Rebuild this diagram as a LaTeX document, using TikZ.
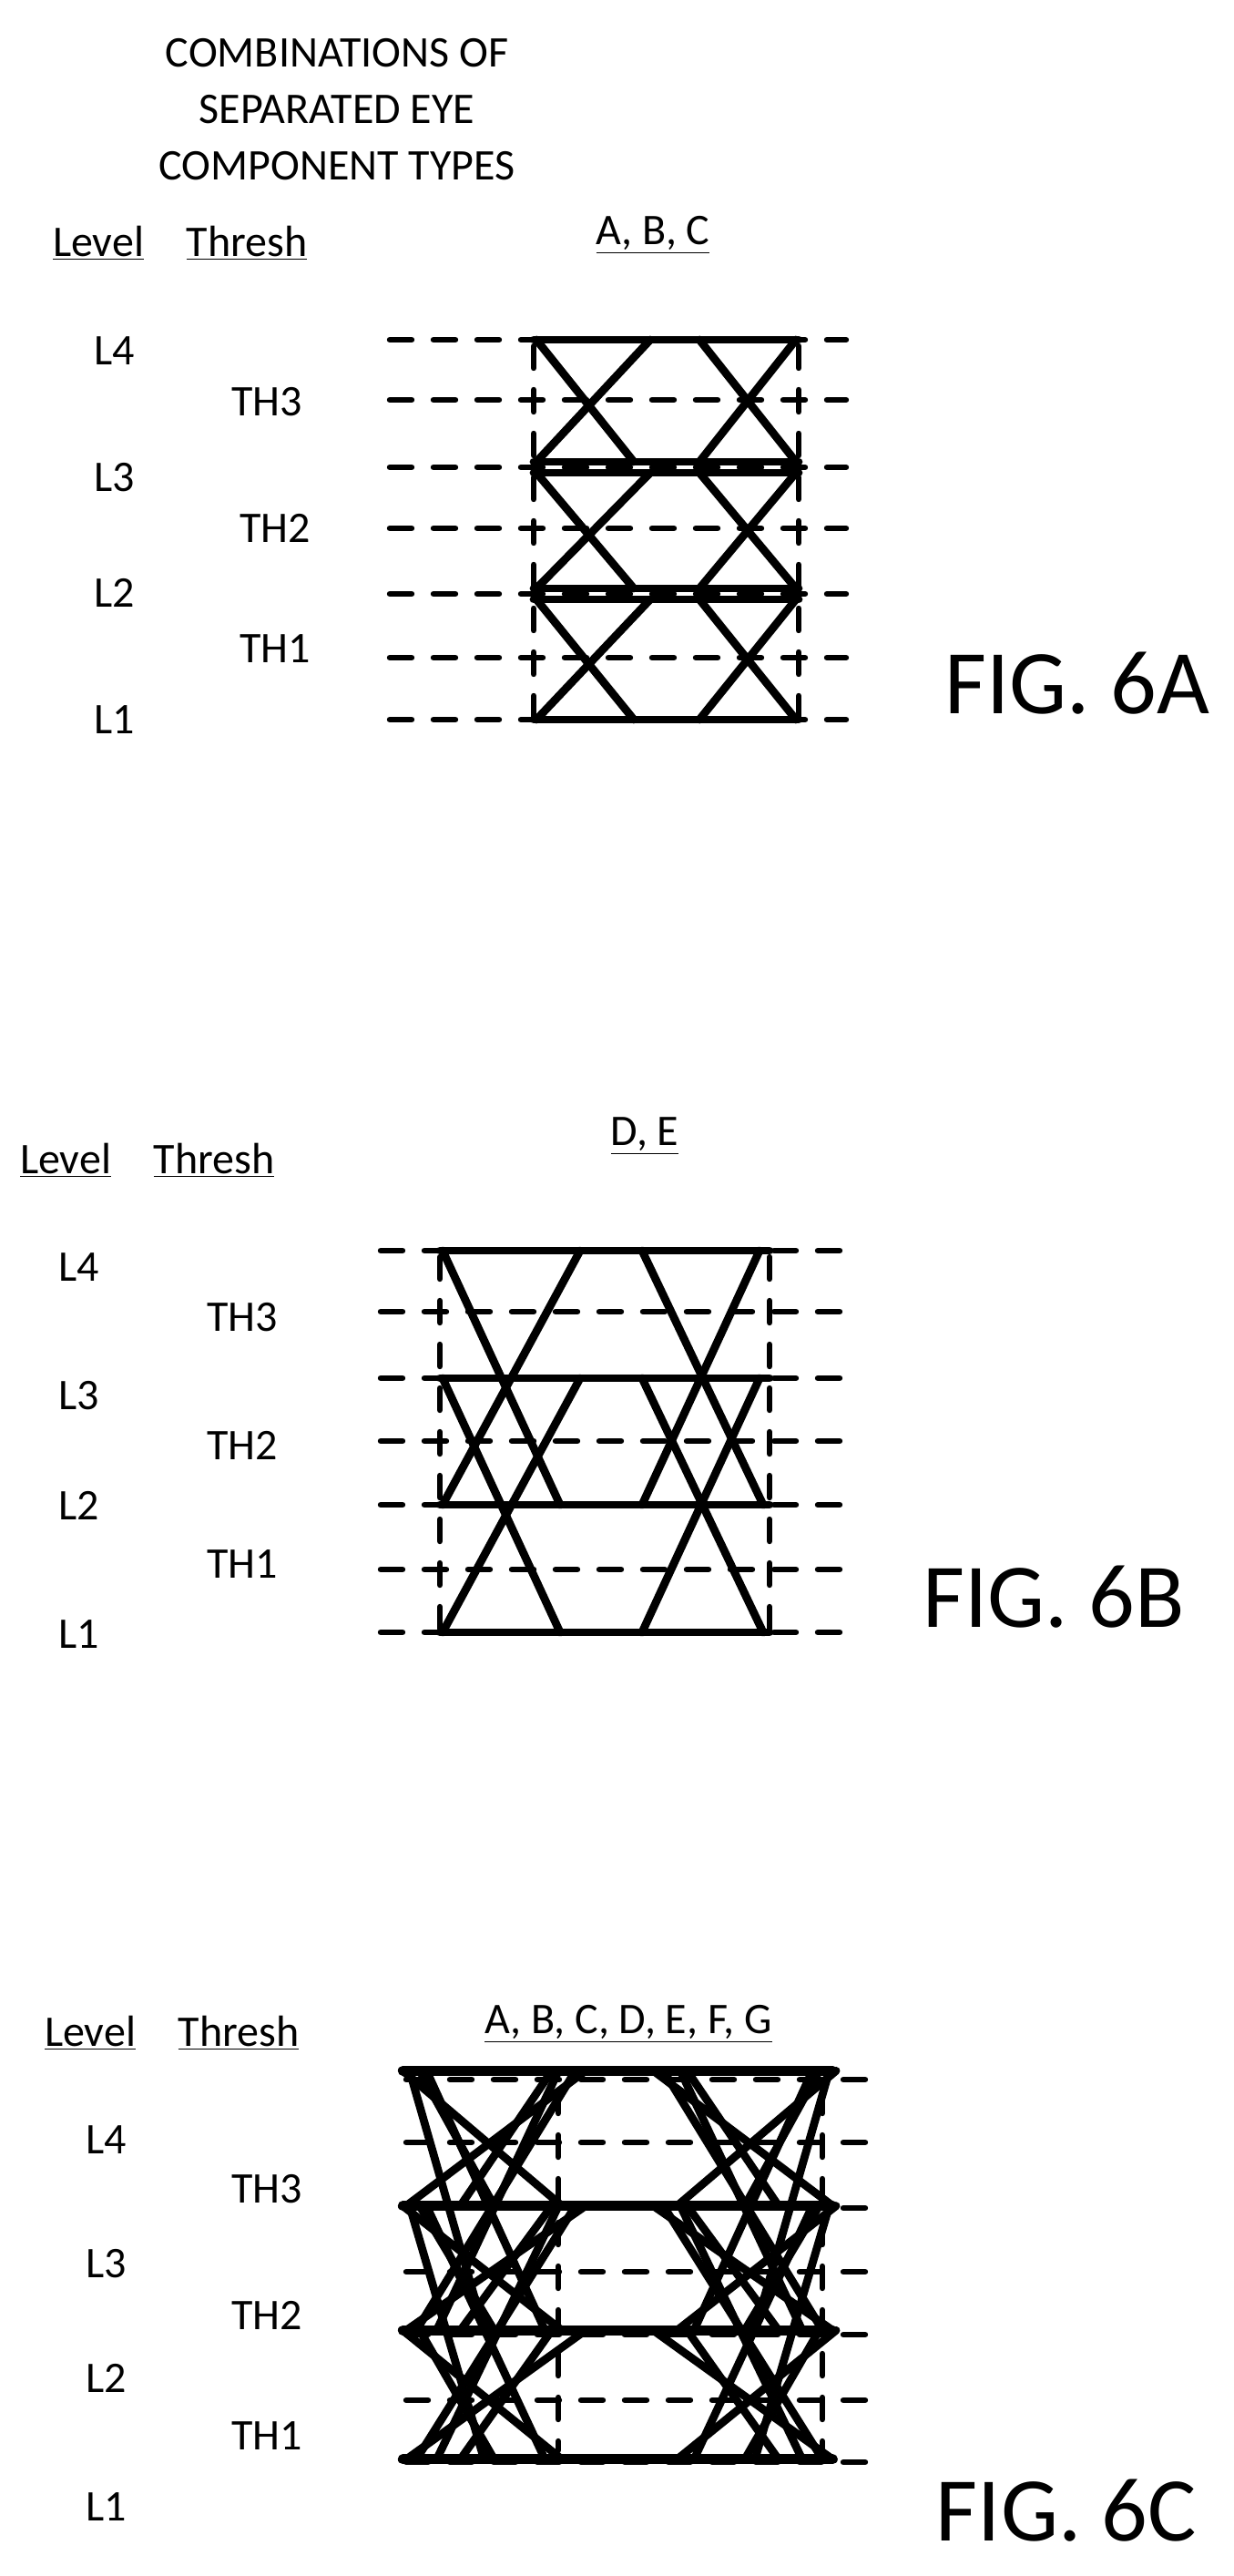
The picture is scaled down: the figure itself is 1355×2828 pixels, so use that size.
\documentclass[tikz,border=0pt]{standalone}
\usepackage{fontspec}
\setmainfont{Carlito}
\usepackage{tikz}
\usetikzlibrary{positioning}
\tikzset{
	lbl/.style={font=\fontsize{24}{28}\selectfont,inner sep=0pt},
	fig/.style={font=\fontsize{50}{56}\selectfont,inner sep=0pt},
	grid line/.style={line width=3.2pt,line cap=round,dash pattern=on 12pt off 12pt},
	eye line/.style={line width=4.4pt,line cap=round,line join=round},
	heavy line/.style={line width=5.5pt,line cap=round}
}
\begin{document}
\begin{tikzpicture}[x=0.5pt,y=-0.5pt]
	\useasboundingbox (0,0) rectangle (1355,2828);

	% FIG. 6A
	\node[lbl,align=center] (title) at (370,120) {COMBINATIONS OF\\[3pt]SEPARATED EYE\\[3pt]COMPONENT TYPES};
	\node[lbl] (levA) at (108,267) {\underline{Level}};
	\node[lbl] (thrA) at (271,267) {\underline{Thresh}};
	\node[lbl] (typA) at (717,258) {\underline{A, B, C}};
	\node[lbl] at (126,385) {L4};
	\node[lbl] at (293,441) {TH3};
	\node[lbl] at (126,524) {L3};
	\node[lbl] at (302,580) {TH2};
	\node[lbl] at (126,651) {L2};
	\node[lbl] at (302,712) {TH1};
	\node[lbl] at (126,790) {L1};
	\node[fig] (figA) at (1183,750) {FIG. 6A};
	\foreach \y in {373,439,513,580,652,722,790}
		\draw[grid line] (428,\y) -- (929,\y);
	\foreach \x in {586,877}
		\draw[grid line] (\x,380) -- (\x,788);
	\foreach \t/\b in {373/507,519/646,658/790}{
		\draw[eye line] (586,\t) -- (877,\t);
		\draw[eye line] (586,\b) -- (877,\b);
		\draw[eye line] (589,\t) -- (696,\b);
		\draw[eye line] (714,\t) -- (589,\b);
		\draw[eye line] (768,\t) -- (874,\b);
		\draw[eye line] (874,\t) -- (768,\b);
	}

	% FIG. 6B
	\node[lbl] (levB) at (72,1274) {\underline{Level}};
	\node[lbl] (thrB) at (235,1274) {\underline{Thresh}};
	\node[lbl] (typB) at (708,1247) {\underline{D, E}};
	\node[lbl] at (87,1391) {L4};
	\node[lbl] at (266,1446) {TH3};
	\node[lbl] at (87,1532) {L3};
	\node[lbl] at (266,1587) {TH2};
	\node[lbl] at (87,1653) {L2};
	\node[lbl] at (266,1717) {TH1};
	\node[lbl] at (87,1794) {L1};
	\node[fig] (figB) at (1157,1753) {FIG. 6B};
	\foreach \y in {1373,1440,1513,1582,1652,1723,1792}
		\draw[grid line] (418,\y) -- (928,\y);
	\foreach \x in {483,845}
		\draw[grid line] (\x,1380) -- (\x,1790);
	\foreach \y in {1373,1513,1652,1792}
		\draw[eye line] (483,\y) -- (845,\y);
	\foreach \t/\b in {1373/1652,1513/1792}{
		\draw[eye line] (486,\t) -- (615,\b);
		\draw[eye line] (637,\t) -- (486,\b);
		\draw[eye line] (705,\t) -- (838,\b);
		\draw[eye line] (834,\t) -- (705,\b);
	}

	% FIG. 6C
	\node[lbl] (levC) at (99,2232) {\underline{Level}};
	\node[lbl] (thrC) at (262,2232) {\underline{Thresh}};
	\node[lbl] (typC) at (690,2222) {\underline{A, B, C, D, E, F, G}};
	\node[lbl] at (117,2349) {L4};
	\node[lbl] at (293,2403) {TH3};
	\node[lbl] at (117,2485) {L3};
	\node[lbl] at (293,2542) {TH2};
	\node[lbl] at (117,2611) {L2};
	\node[lbl] at (293,2674) {TH1};
	\node[lbl] at (117,2752) {L1};
	\node[fig] (figC) at (1171,2756) {FIG. 6C};
	\foreach \y in {2283,2352,2424,2494,2563,2635,2703}
		\draw[grid line] (446,\y) -- (955,\y);
	\foreach \x in {613,903}
		\draw[grid line] (\x,2296) -- (\x,2690);
	\begin{scope}[shift={(420,2230)},xscale=0.3717,yscale=0.3333]
		\foreach \y in {130,575,985,1410}
			\draw[heavy line] (60,\y) -- (1330,\y);
		\foreach \s in {1,-1}{
			\begin{scope}[cm={\s,0,0,1,(700-700*\s,0)}]
				\foreach \t/\b in {130/575,575/985,985/1410}{
					\draw[eye line] (60,\t) -- (530,\b);
					\draw[eye line] (600,\t) -- (70,\b);
					\draw[eye line] (110,\t) -- (330,\b);
					\draw[eye line] (500,\t) -- (230,\b);
				}
				\foreach \t/\b in {130/985,575/1410}{
					\draw[eye line] (80,\t) -- (300,\b);
					\draw[eye line] (520,\t) -- (160,\b);
					\draw[eye line] (130,\t) -- (480,\b);
					\draw[eye line] (570,\t) -- (100,\b);
				}
			\end{scope}
		}
	\end{scope}
\end{tikzpicture}
\end{document}
